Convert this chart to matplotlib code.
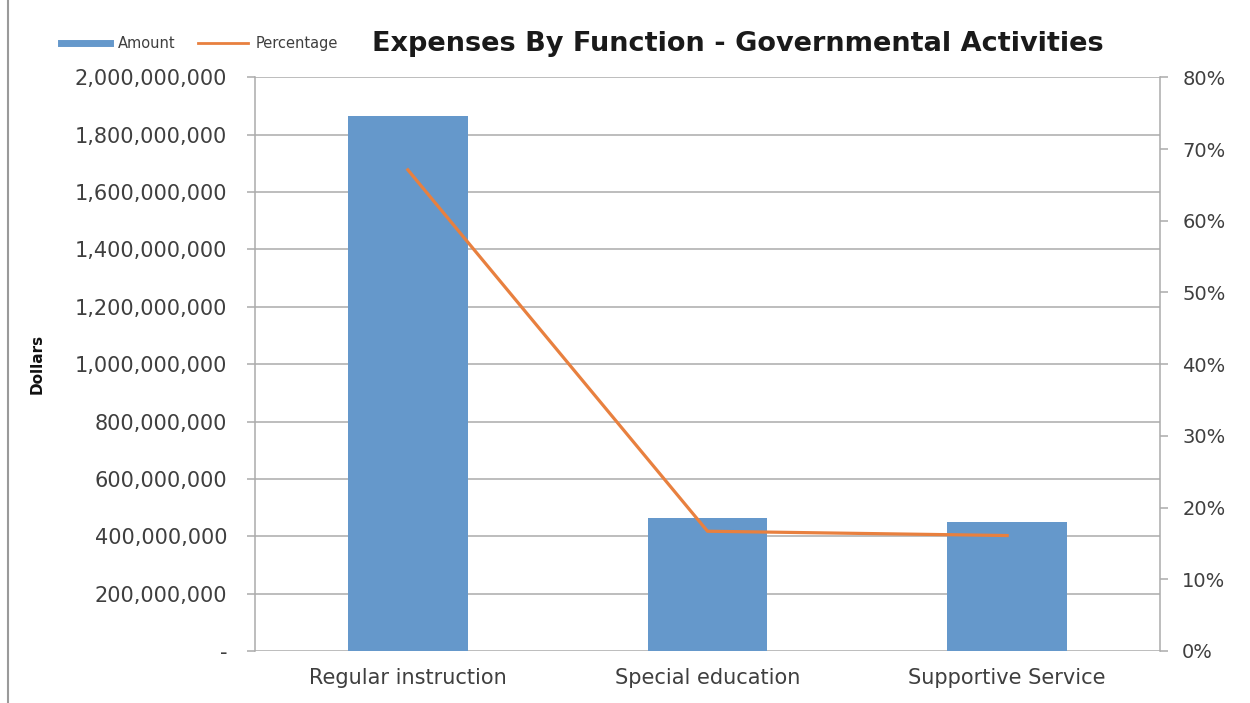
import numpy as np
import matplotlib
matplotlib.use("Agg")
import matplotlib.pyplot as plt
from matplotlib.ticker import FuncFormatter, MultipleLocator
from matplotlib.lines import Line2D

# ---- data ----
categories = ["Regular instruction", "Special education", "Supportive Service"]
amount = [1_864_000_000, 465_000_000, 448_000_000]
percentage = [0.671, 0.167, 0.161]

BLUE = "#6598CB"
ORANGE = "#E8803F"
GRID = "#ABABAB"
TXT = "#3F3F3F"

plt.rcParams["font.family"] = ["DejaVu Sans"]

fig = plt.figure(figsize=(12.5, 7.03), dpi=100)
ax = fig.add_axes([0.204, 0.074, 0.724, 0.816])
ax2 = ax.twinx()

x = np.arange(len(categories))
ax.bar(x, amount, width=0.4, color=BLUE, zorder=2, label="Amount")
ax2.plot(x, percentage, color=ORANGE, lw=2.3, zorder=3, label="Percentage")

ax.set_xlim(-0.51, 2.51)
ax.set_ylim(0, 2_000_000_000)
ax2.set_ylim(0, 0.8)
ax.yaxis.set_major_locator(MultipleLocator(200_000_000))
ax2.yaxis.set_major_locator(MultipleLocator(0.1))
ax.yaxis.set_major_formatter(FuncFormatter(lambda v, p: "-" if v == 0 else f"{v:,.0f}"))
ax2.yaxis.set_major_formatter(FuncFormatter(lambda v, p: f"{v*100:.0f}%"))

ax.set_axisbelow(True)
ax.grid(axis="y", color=GRID, lw=1.1)
ax.set_xticks(x)
ax.set_xticklabels(categories)

for a in (ax, ax2):
    for s in a.spines.values():
        s.set_visible(False)
    a.tick_params(axis="y", colors=GRID, labelcolor=TXT,
                  length=6, width=1.1)
ax.spines["left"].set_visible(True)
ax.spines["left"].set_color(GRID)
ax.spines["left"].set_linewidth(1.1)
ax2.spines["right"].set_visible(True)
ax2.spines["right"].set_color(GRID)
ax2.spines["right"].set_linewidth(1.1)
ax.tick_params(axis="x", length=0, labelsize=15, labelcolor=TXT, pad=12)
ax.tick_params(axis="y", pad=14, labelsize=15)
ax2.tick_params(axis="y", pad=10, labelsize=14)

ax.set_ylabel("Dollars", fontsize=11, fontweight="bold", color="#111111")
ax.yaxis.set_label_coords(-0.232, 0.5)

fig.text(0.59, 0.937, "Expenses By Function - Governmental Activities",
         ha="center", va="center", fontsize=19.5, fontweight="bold", color="#1a1a1a")

handles = [Line2D([], [], color=BLUE, lw=5), Line2D([], [], color=ORANGE, lw=2)]
fig.legend(handles, ["Amount", "Percentage"], loc="center left",
           bbox_to_anchor=(0.038, 0.938), ncol=2, frameon=False, fontsize=10.5,
           handlelength=3.4, handletextpad=0.5, columnspacing=1.6, labelcolor=TXT)

# left border of the original frame
fig.add_artist(Line2D([0.0065, 0.0065], [0, 1], color="#9a9a9a", lw=1.5,
                      transform=fig.transFigure))

fig.savefig("out.png", dpi=100)
